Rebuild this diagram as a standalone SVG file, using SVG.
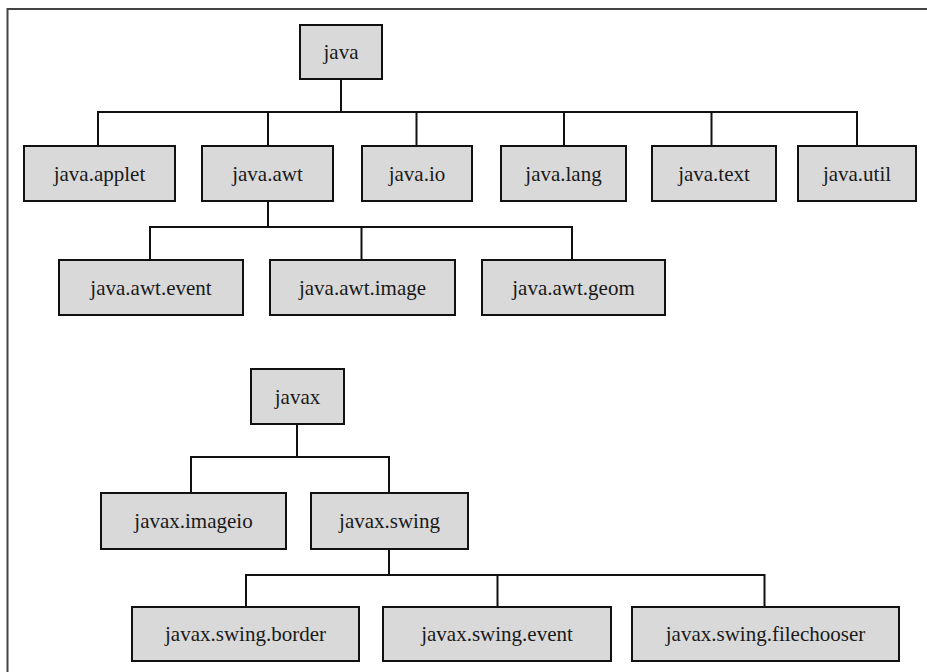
<svg xmlns="http://www.w3.org/2000/svg" width="927" height="672" viewBox="0 0 927 672">
<style>
.n rect{fill:#d9d9d9;stroke:#111;stroke-width:2}
.n text{font-family:"Liberation Serif","Times New Roman",Tinos,"DejaVu Serif",serif;font-size:21px;fill:#1a1a1a;text-anchor:middle}
.c path{fill:none;stroke:#111;stroke-width:2}
</style>
<rect x="0" y="0" width="927" height="672" fill="#fff"/>
<path d="M7.5 672 V9 H927" fill="none" stroke="#444" stroke-width="2"/>
<g class="c">
<path d="M341 79 V112 M98 146 V112 H857 V146 M268 112 V146 M416.5 112 V146 M564 112 V146 M711.5 112 V146"/>
<path d="M268 201 V227 M150 260 V227 H572 V260 M361.5 227 V260"/>
<path d="M297 424 V457 M191 493 V457 H389 V493"/>
<path d="M389 549 V575 M246 607 V575 H764.5 V607 M497.5 575 V607"/>
</g>
<g class="n" id="java"><rect x="300" y="25" width="82" height="54"/><text x="341" y="59">java</text></g>
<g class="n" id="java_applet"><rect x="24" y="146" width="151" height="55"/><text x="99.5" y="181">java.applet</text></g>
<g class="n" id="java_awt"><rect x="202" y="146" width="131" height="55"/><text x="267.5" y="181">java.awt</text></g>
<g class="n" id="java_io"><rect x="362" y="146" width="110" height="55"/><text x="417" y="181">java.io</text></g>
<g class="n" id="java_lang"><rect x="501" y="146" width="125" height="55"/><text x="563.5" y="181">java.lang</text></g>
<g class="n" id="java_text"><rect x="652" y="146" width="124" height="55"/><text x="714" y="181">java.text</text></g>
<g class="n" id="java_util"><rect x="798" y="146" width="118" height="55"/><text x="857" y="181">java.util</text></g>
<g class="n" id="java_awt_event"><rect x="59" y="260" width="184" height="55"/><text x="151" y="295">java.awt.event</text></g>
<g class="n" id="java_awt_image"><rect x="270" y="260" width="185" height="55"/><text x="362.5" y="295">java.awt.image</text></g>
<g class="n" id="java_awt_geom"><rect x="482" y="260" width="183" height="55"/><text x="573.5" y="295">java.awt.geom</text></g>
<g class="n" id="javax"><rect x="251" y="369" width="93" height="55"/><text x="297.5" y="404">javax</text></g>
<g class="n" id="javax_imageio"><rect x="101" y="493" width="185" height="56"/><text x="193.5" y="528">javax.imageio</text></g>
<g class="n" id="javax_swing"><rect x="311" y="493" width="157" height="56"/><text x="389.5" y="528">javax.swing</text></g>
<g class="n" id="javax_swing_border"><rect x="132" y="607" width="227" height="54"/><text x="245.5" y="641">javax.swing.border</text></g>
<g class="n" id="javax_swing_event"><rect x="383" y="607" width="228" height="54"/><text x="497" y="641">javax.swing.event</text></g>
<g class="n" id="javax_swing_filechooser"><rect x="632" y="607" width="267" height="54"/><text x="765.5" y="641">javax.swing.filechooser</text></g>
</svg>
